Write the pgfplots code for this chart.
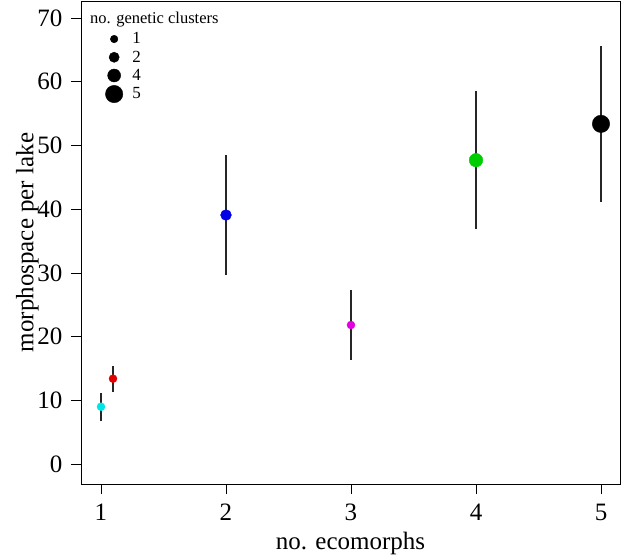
\documentclass[border=0pt]{standalone}
\usepackage{fontspec}
\setmainfont{Liberation Serif}
\usepackage{pgfplots}
\pgfplotsset{compat=1.18}

\definecolor{ccyan}{RGB}{0,229,229}
\definecolor{cred}{RGB}{224,0,0}
\definecolor{cblue}{RGB}{0,0,230}
\definecolor{cmag}{RGB}{224,0,224}
\definecolor{cgreen}{RGB}{0,205,0}

\begin{document}
\begin{tikzpicture}
\begin{axis}[
    scale only axis,
    width=539pt, height=483pt,
    xmin=0.84, xmax=5.152,
    ymin=-3.09, ymax=72.67,
    xtick={1,2,3,4,5},
    ytick={0,10,...,70},
    tick align=outside,
    major tick length=10pt,
    tick style={black, line width=0.9pt},
    axis line style={line width=0.9pt},
    axis x line*=bottom, axis y line*=left,
    separate axis lines,
    every outer x axis line/.append style={-},
    every outer y axis line/.append style={-},
    /pgf/number format/assume math mode=true,
    ticklabel style={font=\fontsize{25}{29}\selectfont},
    xticklabel style={yshift=-6.5pt},
    yticklabel style={xshift=-5pt},
    xlabel={no. ecomorphs},
    ylabel={morphospace per lake},
    label style={font=\fontsize{25}{29}\selectfont},
    xlabel style={yshift=-4pt},
    ylabel style={yshift=-8pt},
    legend style={at={(rel axis cs:0.045,0.939)}, anchor=north west,
        draw=none, fill=none, font=\fontsize{17}{19}\selectfont,
        row sep=1.5pt, inner sep=0pt},
    legend cell align=left,
    legend image code/.code={\draw[#1] plot coordinates {(0.3cm,0cm)};
        \path (0.3cm+16pt,0pt);},
    error bars/y dir=both, error bars/y explicit,
    error bars/error mark=none,
    error bars/error bar style={black!85, line width=1.1pt},
]
% x, y, +err, -err  (bars drawn from read lower/upper ends)
\addplot[only marks, mark=*, mark size=4pt, color=ccyan, forget plot]
  coordinates {(1.0,9.03) +- (2.20,2.19)};
\addplot[only marks, mark=*, mark size=4pt, color=cred, forget plot]
  coordinates {(1.096,13.43) +- (2.14,2.04)};
\addplot[only marks, mark=*, mark size=5.4pt, color=cblue, forget plot]
  coordinates {(2,39.1) +- (9.4,9.4)};
\addplot[only marks, mark=*, mark size=4pt, color=cmag, forget plot]
  coordinates {(3,21.85) +- (5.35,5.49)};
\addplot[only marks, mark=*, mark size=6.8pt, color=cgreen, forget plot]
  coordinates {(4,47.7) +- (10.6,10.8)};
\addplot[only marks, mark=*, mark size=8.7pt, color=black, forget plot]
  coordinates {(5,53.4) +- (12.1,12.2)};

\addlegendimage{only marks, mark=*, mark size=3.8pt, black}
\addlegendentry{1}
\addlegendimage{only marks, mark=*, mark size=5.1pt, black}
\addlegendentry{2}
\addlegendimage{only marks, mark=*, mark size=6.5pt, black}
\addlegendentry{4}
\addlegendimage{only marks, mark=*, mark size=8.7pt, black}
\addlegendentry{5}

\node[anchor=west, font=\fontsize{16.5}{18}\selectfont, inner sep=0pt]
  at (rel axis cs:0.0167,0.961) {no. genetic clusters};
\end{axis}
\draw[line width=0.9pt] (current axis.south west) rectangle (current axis.north east);
\path (current axis.south west) ++(-81pt,-71pt) rectangle ([shift={(2pt,1pt)}]current axis.north east);
\end{tikzpicture}
\end{document}
